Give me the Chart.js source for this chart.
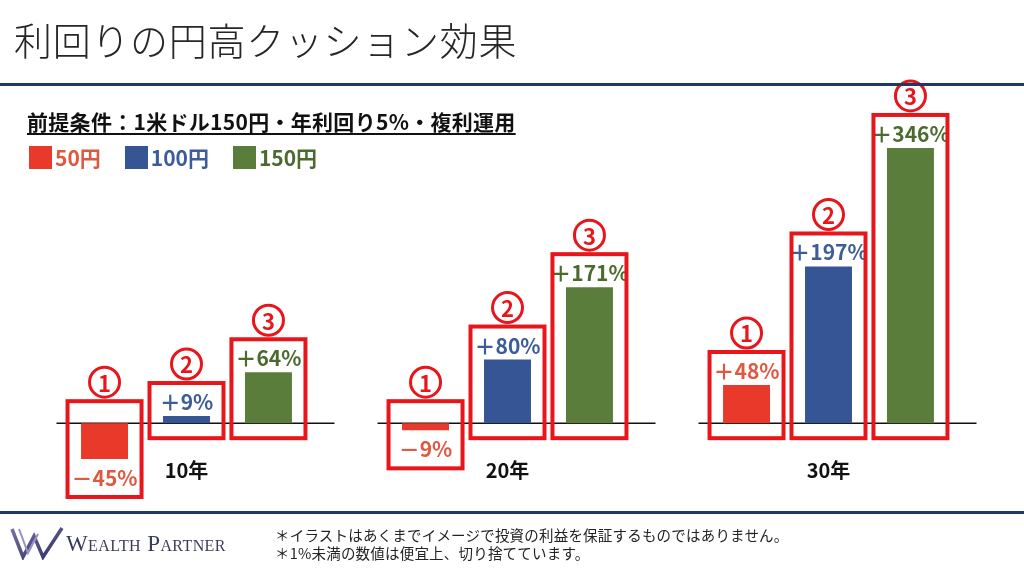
<!DOCTYPE html>
<html lang="ja">
<head>
<meta charset="utf-8">
<script src="https://cdn.jsdelivr.net/npm/chart.js@4/dist/chart.umd.min.js"></script>
<style>
  html,body{margin:0;padding:0;background:#fff;}
  body{width:1024px;height:574px;position:relative;overflow:hidden;font-family:"Noto Sans CJK JP","Noto Sans",sans-serif;}
  #c{position:absolute;left:0;top:0;z-index:0;}
  .abs{position:absolute;z-index:1;white-space:nowrap;}
  #title{left:14px;top:20px;font-size:38px;line-height:38px;font-weight:300;color:#262626;letter-spacing:0.7px;}
  #topline{left:0;top:83px;width:1024px;height:3px;background:#1f3864;}
  #sub{left:27px;top:110px;font-size:21px;line-height:22px;font-weight:700;color:#111;text-decoration:underline;text-underline-offset:3px;text-decoration-thickness:2px;letter-spacing:0.3px;}
  #legend{left:29px;top:145px;display:flex;gap:0;}
  .lg{display:flex;align-items:center;margin-right:24px;font-weight:700;font-size:21px;line-height:24px;}
  .sw{width:23px;height:23px;margin-right:3px;}
  #botline{left:0;top:511px;width:1024px;height:3px;background:#1f3864;}
  #notes{left:275px;top:526px;font-size:14.5px;line-height:18px;color:#222;letter-spacing:0.2px;}
  #logo{left:10px;top:526px;}
  #brand{left:66px;top:532px;font-family:"Liberation Serif","DejaVu Serif",serif;font-variant:small-caps;font-size:23px;line-height:24px;color:#3a3d5a;letter-spacing:0.4px;}
</style>
</head>
<body>
<canvas id="c" width="1024" height="574"></canvas>
<div class="abs" id="title">利回りの円高クッション効果</div>
<div class="abs" id="topline"></div>
<div class="abs" id="sub">前提条件：1米ドル150円・年利回り5%・複利運用</div>
<div class="abs" id="legend"></div>
<div class="abs" id="botline"></div>
<svg class="abs" id="logo" width="54" height="34" viewBox="0 0 54 34">
  <defs><linearGradient id="g" x1="0" x2="1" y1="0" y2="1"><stop offset="0" stop-color="#7b6fa8"/><stop offset="1" stop-color="#2c3163"/></linearGradient></defs>
  <polyline points="2,3 13,31 24,10 33,31 52,2" fill="none" stroke="url(#g)" stroke-width="3.5" stroke-linejoin="miter"/>
  <polyline points="9,3 18,27 28,8" fill="none" stroke="#9a90c2" stroke-width="2"/>
</svg>
<div class="abs" id="brand">Wealth Partner</div>
<div class="abs" id="notes">＊イラストはあくまでイメージで投資の利益を保証するものではありません。<br>＊1%未満の数値は便宜上、切り捨てています。</div>
<script>
// ---- data ----
const categories = ['10年', '20年', '30年'];
const seriesNames = ['50円', '100円', '150円'];
const values50 = [-45, -9, 48];
const values100 = [9, 80, 197];
const values150 = [64, 171, 346];
const circleMarks = ['1', '2', '3'];

// ---- styles ----
const barColors = ['#e8392a', '#355594', '#5a7d3c'];
const labelColors = ['#e0583f', '#3d5c9c', '#4b6a2e'];
const boxRed = '#e8161b';

// legend (HTML)
const lg = document.getElementById('legend');
seriesNames.forEach((n, i) => {
  const d = document.createElement('div');
  d.className = 'lg';
  d.innerHTML = '<span class="sw" style="background:' + barColors[i] + '"></span><span style="color:' + labelColors[i] + '">' + n + '</span>';
  lg.appendChild(d);
});

const overlay = {
  id: 'overlay',
  beforeDatasetsDraw(chart) {
    const ctx = chart.ctx;
    const xs = chart.scales.x, ys = chart.scales.y;
    const zero = ys.getPixelForValue(0);
    ctx.save();
    ctx.strokeStyle = '#111';
    ctx.lineWidth = 1.5;
    categories.forEach((c, i) => {
      const cx = xs.getPixelForValue(i);
      ctx.beginPath();
      ctx.moveTo(cx - 130, zero);
      ctx.lineTo(cx + 148, zero);
      ctx.stroke();
    });
    ctx.restore();
  },
  afterDatasetsDraw(chart) {
    const ctx = chart.ctx;
    const xs = chart.scales.x, ys = chart.scales.y;
    const zero = ys.getPixelForValue(0);
    ctx.save();
    // category labels
    ctx.fillStyle = '#111';
    ctx.font = 'bold 20px "Noto Sans CJK JP"';
    ctx.textAlign = 'center';
    ctx.textBaseline = 'middle';
    categories.forEach((c, i) => {
      ctx.fillText(c, xs.getPixelForValue(i), zero + 47);
    });
    chart.data.datasets.forEach((ds, di) => {
      const meta = chart.getDatasetMeta(di);
      meta.data.forEach((bar, i) => {
        const v = ds.data[i];
        const x = bar.x;
        let top, bottom, ly;
        if (v >= 0) {
          top = bar.y - 33; bottom = zero + 15; ly = bar.y - 14;
        } else {
          top = zero - 22; bottom = bar.y + 38; ly = bar.y + 19;
        }
        // value label
        ctx.fillStyle = labelColors[di];
        ctx.font = 'bold 21px "Noto Sans CJK JP"';
        ctx.textAlign = 'center';
        ctx.textBaseline = 'middle';
        const txt = (v >= 0 ? '＋' : '－') + Math.abs(v) + '%';
        ctx.fillText(txt, x, ly);
        // red box
        ctx.strokeStyle = boxRed;
        ctx.lineWidth = 4;
        ctx.strokeRect(x - 37, top, 74, bottom - top);
        // circled number
        const cy = top - 19;
        ctx.lineWidth = 3;
        ctx.beginPath();
        ctx.arc(x, cy, 15, 0, Math.PI * 2);
        ctx.stroke();
        ctx.fillStyle = boxRed;
        ctx.font = 'bold 22px "Noto Sans CJK JP"';
        ctx.fillText(circleMarks[di], x, cy + 1);
      });
    });
    ctx.restore();
  }
};

const seriesValues = [values50, values100, values150];
new Chart(document.getElementById('c'), {
  type: 'bar',
  data: {
    labels: categories,
    datasets: seriesNames.map((n, i) => ({
      label: n,
      data: seriesValues[i],
      backgroundColor: barColors[i],
      borderWidth: 0,
      categoryPercentage: 0.766,
      barPercentage: 0.573,
      clip: false
    }))
  },
  options: {
    responsive: false,
    animation: false,
    devicePixelRatio: 1,
    layout: { padding: { left: 26, right: 35, top: 105, bottom: 119 } },
    plugins: { legend: { display: false }, tooltip: { enabled: false } },
    scales: {
      x: { display: false },
      y: { display: false, min: -40, max: 400 }
    }
  },
  plugins: [overlay]
});
</script>
</body>
</html>
